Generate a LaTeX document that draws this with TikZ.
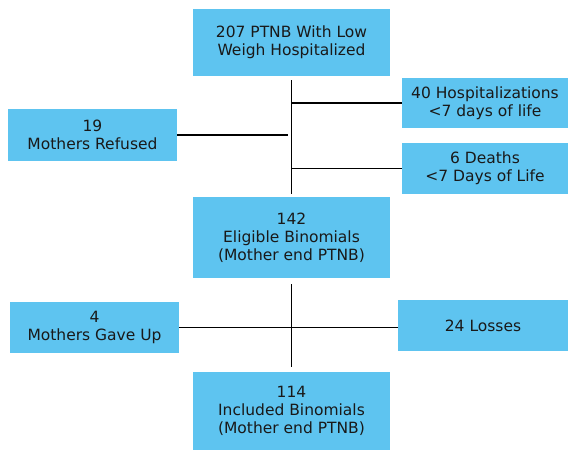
\documentclass[tikz,border=0pt]{standalone}
\usepackage{fontspec}
\setmainfont{DejaVu Sans}
\usepackage{tikz}
\definecolor{boxblue}{RGB}{94,196,240}

\begin{document}
\begin{tikzpicture}[x=1pt,y=-1pt]
\tikzstyle{every node}+=[inner sep=0pt]
\tikzstyle{bluebox}=[fill=boxblue, align=center, text=black!90, font=\fontsize{15.5}{18}\selectfont]
\tikzstyle{link}=[black, line width=1.8pt]
\useasboundingbox (0,0) rectangle (568,451);
\node [bluebox, minimum width=197pt, minimum height=67pt] (total) at (291.5,42.5) {207 PTNB With Low\\Weigh Hospitalized};
\node [bluebox, minimum width=166pt, minimum height=50pt] (hosp) at (485,103) {40 Hospitalizations\\{<}7 days of life};
\node [bluebox, minimum width=166pt, minimum height=51pt] (deaths) at (485,168.5) {6 Deaths\\{<}7 Days of Life};
\node [bluebox, minimum width=169pt, minimum height=52pt] (refused) at (92.5,135) {19\\Mothers Refused};
\node [bluebox, minimum width=197pt, minimum height=81pt] (eligible) at (291.5,237.5) {142\\Eligible Binomials\\(Mother end PTNB)};
\node [bluebox, minimum width=169pt, minimum height=51pt] (gaveup) at (94.5,327.5) {4\\Mothers Gave Up};
\node [bluebox, minimum width=170pt, minimum height=51pt] (losses) at (483,325.5) {24 Losses};
\node [bluebox, minimum width=197pt, minimum height=78pt] (included) at (291.5,411) {114\\Included Binomials\\(Mother end PTNB)};
\draw [link, shorten <=4pt, shorten >=2.5pt] (total.south) -- (eligible.north);
\draw [link] (total.south |- hosp.west) -- (hosp.west);
\draw [link] (total.south |- deaths.west) -- (deaths.west);
\draw [link, shorten >=4pt] (refused.east) -- (refused.east -| total.south);
\draw [link, shorten <=6pt, shorten >=5pt] (eligible.south) -- (included.north);
\draw [link] (gaveup.east) -- (gaveup.east -| losses.west);
\end{tikzpicture}
\end{document}
